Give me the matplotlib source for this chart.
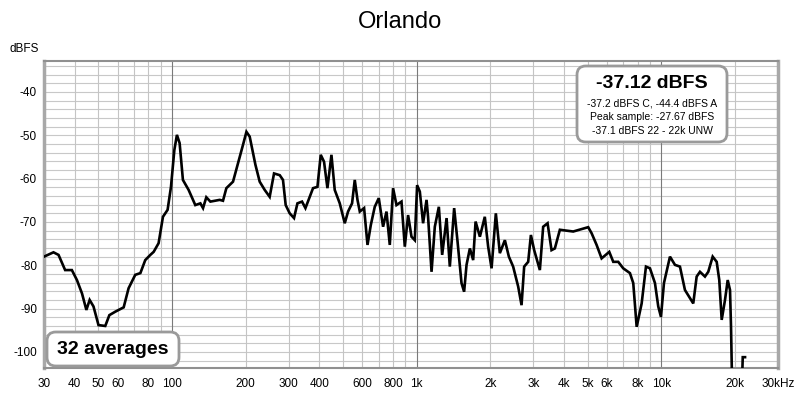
import numpy as np
import matplotlib
matplotlib.use("Agg")
import matplotlib.pyplot as plt
from matplotlib.patches import FancyBboxPatch

plt.rcParams['font.family'] = ['Liberation Sans', 'DejaVu Sans']

nan = float('nan')

freq_hz = [30, 32.8, 34.4, 36.6, 39.0, 40.9, 42.9, 44.7, 46.1, 47.8, 50.1, 53.4, 55.5, 58.7,
           63.5, 66.5, 70.8, 74.3, 77.8, 81.6, 84.2, 88.2, 91.9, 96.0, 99.1, 102.3, 104.8,
           107.5, 110.9, 117.0, 124.6, 130.7, 134.0, 138.2, 143.6, 156.7, 161.7, 166.9, 177.7,
           186.2, 195.2, 201.6, 207.9, 214.5, 219.4, 228.4, 239.4, 250.9, 261.4, 275.8, 284.4,
           291.7, 302.9, 315.5, 325.8, 340.2, 351.3, 365.8, 377.3, 393.3, 405.7, 418.5, 432.1,
           448.7, 462.8, 485.2, 508.6, 524.6, 544.8, 558.8, 573.3, 585.9, 610.1, 630.0, 649.9,
           674.5, 700.5, 729.5, 753.2, 777.0, 801.5, 827.6, 867.5, 894.9, 923.1, 953.1, 983.1,
           1005, 1031, 1063, 1098, 1114, 1151, 1187, 1233, 1272, 1326, 1367, 1424, 1470, 1526,
           1564, 1600, 1651, 1703, 1742, 1814, 1900, 1961, 2025, 2108, 2189, 2295, 2383, 2481,
           2601, 2685, 2752, 2858, 2932, 3024, 3190, 3291, 3430, 3561, 3674, 3851, 4367, 5028,
           5192, 5442, 5704, 6130, 6365, 6670, 6992, 7447, 7683, 7933, 8315, 8659, 8992, 9424,
           9721, 9972, 10256, 10854, 11376, 11923, 12497, 13513, 13953, 14394, 15087, 15563,
           16223, 16847, 17262, 17660, 18218, 18688, 19098, 19279, 19516, 19600,
           21300, 21530, 22000]

level_dbfs = [-78.0, -77.0, -77.6, -81.1, -81.1, -83.4, -86.5, -90.3, -88.0, -89.5, -93.8, -94.0,
              -91.5, -90.7, -89.7, -85.3, -82.2, -81.8, -78.8, -77.6, -76.9, -74.9, -68.8, -67.2,
              -61.9, -53.4, -49.9, -51.8, -60.3, -62.6, -66.1, -65.7, -66.8, -64.3, -65.3, -64.9,
              -65.1, -62.2, -60.7, -56.5, -52.2, -49.2, -50.3, -54.1, -56.8, -60.7, -62.6, -64.2,
              -58.8, -59.2, -60.3, -66.1, -68.0, -69.1, -65.7, -65.3, -66.8, -64.2, -62.2, -61.9,
              -54.5, -56.1, -62.2, -54.5, -62.6, -65.7, -70.3, -67.6, -65.7, -60.3, -64.9, -67.6,
              -66.8, -75.3, -70.7, -66.5, -64.5, -71.1, -67.6, -75.3, -62.2, -66.1, -65.3, -75.7,
              -68.4, -73.4, -74.2, -61.5, -63.0, -70.3, -64.9, -68.8, -81.5, -71.1, -66.5, -77.6,
              -69.1, -80.3, -66.8, -74.5, -84.1, -86.1, -79.9, -76.1, -78.8, -69.9, -73.4, -68.8,
              -75.7, -80.7, -68.0, -77.2, -74.2, -78.0, -80.3, -84.9, -89.2, -80.3, -79.2, -73.0,
              -76.5, -81.1, -71.1, -70.3, -76.5, -76.1, -71.8, -72.2, -71.2, -72.6, -75.3, -78.4,
              -76.9, -79.2, -79.2, -80.7, -81.8, -84.1, -94.2, -88.8, -80.3, -80.7, -84.1, -89.5,
              -91.9, -84.1, -78.0, -79.9, -80.3, -85.7, -88.8, -82.6, -81.5, -82.6, -81.5, -78.0,
              -79.2, -83.4, -92.6, -88.0, -83.4, -85.7, -94.2, -110.0, nan,
              -110.0, -101.2, -101.2]

x_ticks = [30, 40, 50, 60, 80, 100, 200, 300, 400, 600, 800, 1000, 2000, 3000, 4000, 5000,
           6000, 8000, 10000, 20000, 30000]
x_tick_labels = ['30', '40', '50', '60', '80', '100', '200', '300', '400', '600', '800', '1k',
                 '2k', '3k', '4k', '5k', '6k', '8k', '10k', '20k', '30kHz']
y_ticks = [-40, -50, -60, -70, -80, -90, -100]

W, H = 800, 393
fig = plt.figure(figsize=(8, 3.93), dpi=100)
ax = fig.add_axes([44 / W, 1 - 368 / H, 734 / W, 307 / H])
ax.set_xscale('log')
ax.set_xlim(30, 30000)
ax.set_ylim(-103.7, -32.85)

# grid
for yv in np.arange(-104, -32, 2):
    ax.axhline(yv, color='#c8c8c8', lw=0.8, zorder=0)
minor_x = []
for dec in [10, 100, 1000, 10000]:
    for m in range(2, 10):
        v = dec * m
        if 30 < v < 30000:
            minor_x.append(v)
minor_x.append(20000)
for xv in sorted(set(minor_x)):
    if xv in (100, 1000, 10000):
        continue
    ax.axvline(xv, color='#c4c4c4', lw=0.8, zorder=0)
for xv in [100, 1000, 10000]:
    ax.axvline(xv, color='#7a7a7a', lw=0.8, zorder=0)

ax.plot(freq_hz, level_dbfs, color='black', lw=1.9, zorder=3, solid_joinstyle='miter')

ax.set_xticks(x_ticks)
ax.set_xticklabels(x_tick_labels)
ax.xaxis.set_minor_locator(matplotlib.ticker.NullLocator())
ax.set_yticks(y_ticks)
ax.set_yticklabels([str(v) for v in y_ticks])
ax.tick_params(axis='both', length=0, labelsize=8.5, colors='black')
ax.tick_params(axis='x', pad=7)
ax.tick_params(axis='y', pad=5)

for s in ['left', 'right']:
    ax.spines[s].set_color('#a8a8a8')
    ax.spines[s].set_linewidth(2.5)
for s in ['top', 'bottom']:
    ax.spines[s].set_color('#909090')
    ax.spines[s].set_linewidth(1.5)

fig.text(0.5, 1 - 22 / H, 'Orlando', ha='center', va='center', fontsize=17)
fig.text(24 / W, 1 - 49 / H, 'dBFS', ha='center', va='center', fontsize=8.5)

asp = W / H


def rbox(x0, y0, x1, y1):
    p = FancyBboxPatch((x0 / W, 1 - y1 / H), (x1 - x0) / W, (y1 - y0) / H,
                       boxstyle='round,pad=0,rounding_size=0.011', mutation_aspect=asp,
                       transform=fig.transFigure, fc='white', ec='#9a9a9a', lw=2.0, zorder=5)
    fig.add_artist(p)


rbox(577, 66, 727, 142)
fig.text(652 / W, 1 - 83 / H, '-37.12 dBFS', ha='center', va='center', fontsize=14,
         fontweight='bold', zorder=6)
fig.text(652 / W, 1 - 103 / H, '-37.2 dBFS C, -44.4 dBFS A', ha='center', va='center',
         fontsize=7.5, zorder=6)
fig.text(652 / W, 1 - 117 / H, 'Peak sample: -27.67 dBFS', ha='center', va='center',
         fontsize=7.5, zorder=6)
fig.text(652 / W, 1 - 131 / H, '-37.1 dBFS 22 - 22k UNW', ha='center', va='center',
         fontsize=7.5, zorder=6)

rbox(47, 332, 179, 366)
fig.text(113 / W, 1 - 350 / H, '32 averages', ha='center', va='center', fontsize=14,
         fontweight='bold', zorder=6)

fig.savefig('out.png', dpi=100, facecolor='white')
